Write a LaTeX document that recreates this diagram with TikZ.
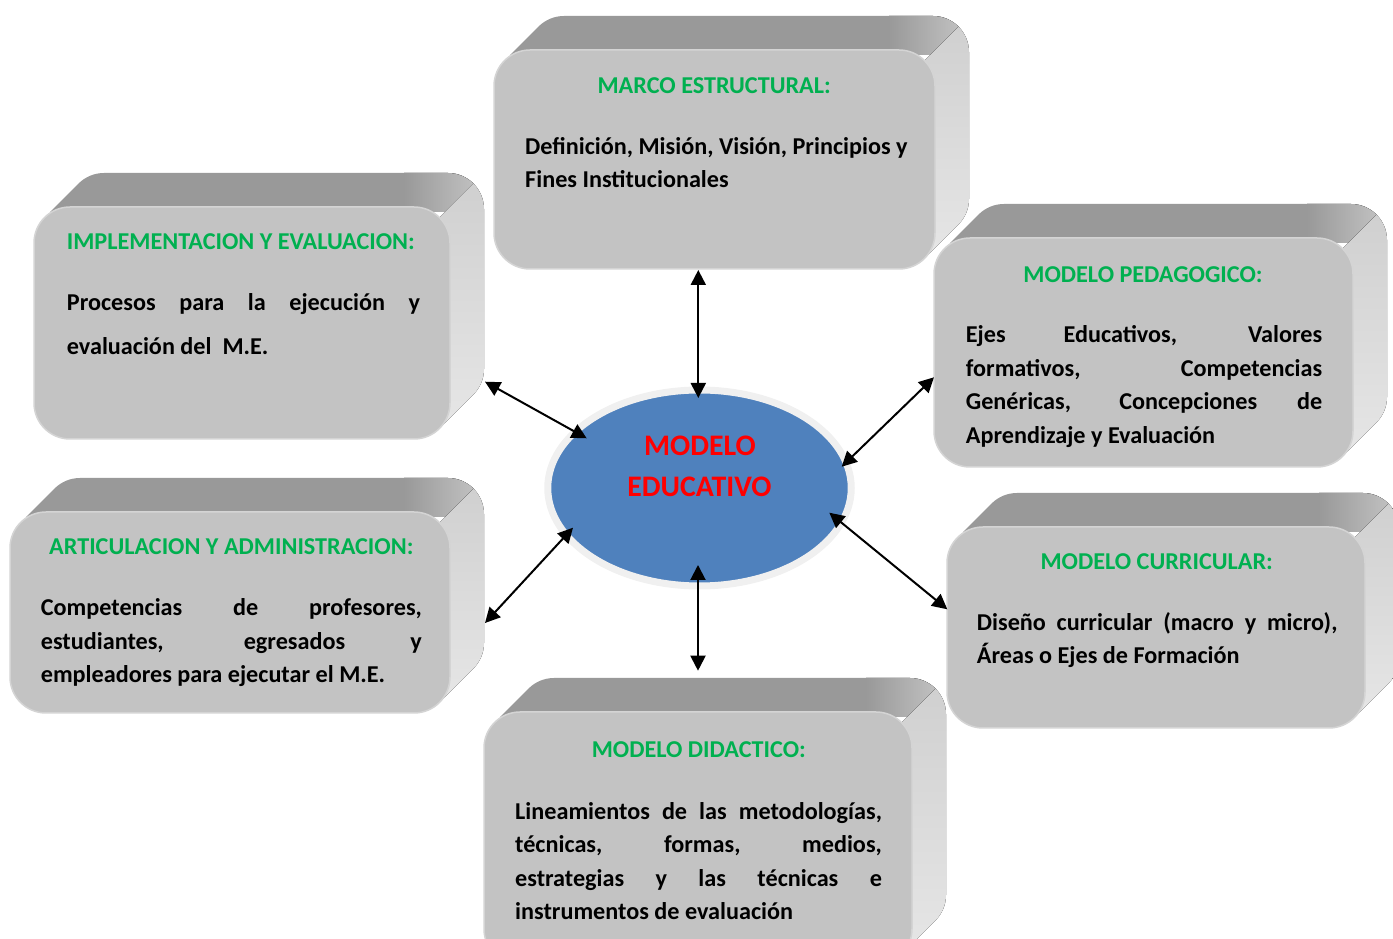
\documentclass[tikz,border=0pt]{standalone}
\usepackage{fontspec}
\setmainfont{Carlito}
\usetikzlibrary{shapes.geometric,arrows.meta}
\definecolor{titlegreen}{HTML}{00B050}
\definecolor{topL}{HTML}{999999}
\definecolor{topR}{HTML}{C8C8C8}
\definecolor{sideT}{HTML}{D0D0D0}
\definecolor{sideB}{HTML}{E6E6E6}
\definecolor{frontfill}{HTML}{C3C3C3}
\definecolor{frontline}{HTML}{D4D4D4}
\definecolor{meblue}{HTML}{4F81BD}
\definecolor{mering}{HTML}{F0F0F0}
\definecolor{mered}{HTML}{FF0000}
\def\rr{36}
\def\dd{34}
\newcommand\jl[2]{\makebox[#1pt][s]{#2}}
\newcommand\extrudedbox[5]{%
  \pgfmathsetmacro\xa{#2}%
  \pgfmathsetmacro\xb{#4}%
  \pgfmathsetmacro\yb{938-#3}%
  \pgfmathsetmacro\ya{938-#5}%
  \pgfmathsetmacro\ca{\rr*0.7071}%
  \pgfmathsetmacro\ww{#4-#2}%
  \pgfmathsetmacro\hh{#5-#3}%
  \begin{scope}
  \path[clip]
    (\xa+\rr-\ca, \yb-\rr+\ca) arc[start angle=135, end angle=90, radius=\rr pt]
    -- (\xb-\rr, \yb) arc[start angle=90, end angle=45, radius=\rr pt]
    -- ++(\dd,\dd) arc[start angle=45, end angle=90, radius=\rr pt]
    -- (\xa+\rr+\dd, \yb+\dd) arc[start angle=90, end angle=135, radius=\rr pt]
    -- cycle;
  \fill[topL] (\xa-5, \yb-5) rectangle (\xb+\dd+5, \yb+\dd+5);
  \fill[left color=topL, right color=topR] (\xb-\rr-10, \yb-5) rectangle (\xb+\dd+5, \yb+\dd+5);
  \end{scope}
  \fill[top color=sideT, bottom color=sideB]
    (\xb-\rr+\ca, \yb-\rr+\ca) arc[start angle=45, end angle=0, radius=\rr pt]
    -- (\xb, \ya+\rr) arc[start angle=0, end angle=-45, radius=\rr pt]
    -- ++(\dd,\dd) arc[start angle=-45, end angle=0, radius=\rr pt]
    -- (\xb+\dd, \yb-\rr+\dd) arc[start angle=0, end angle=45, radius=\rr pt]
    -- cycle;
  \node[frontbox, minimum width=\ww pt, minimum height=\hh pt] (#1) at ({(\xa+\xb)/2}, {(\ya+\yb)/2}) {};
}
\tikzset{
  frontbox/.style={rectangle, rounded corners=\rr pt, fill=frontfill, draw=frontline, line width=1.5pt, inner sep=0pt},
  boxtitle/.style={anchor=base, inner sep=0pt, text=titlegreen, font=\bfseries\fontsize{24.2}{34}\selectfont},
  boxbody/.style={anchor=base west, inner sep=0pt, font=\bfseries\fontsize{24.2}{34}\selectfont},
  centertext/.style={anchor=base, inner sep=0pt, text=mered, font=\bfseries\fontsize{29.8}{40}\selectfont},
  biarrow/.style={line width=2pt, {Triangle[length=15pt,width=15pt]}-{Triangle[length=15pt,width=15pt]}}
}
\begin{document}
\begin{tikzpicture}[x=1pt,y=1pt]
\useasboundingbox (0,0) rectangle (1393,938);
\clip (0,0) rectangle (1393,938);
% boxes
\extrudedbox{ped}{934}{238}{1353}{467}
\extrudedbox{marco}{494}{50}{935}{269}
\extrudedbox{impl}{34}{207}{450}{439}
\extrudedbox{art}{10}{512}{450}{713}
\extrudedbox{did}{484}{712}{912}{965}
\extrudedbox{cur}{947}{527}{1365}{728}
% texts
\node[boxtitle] (marcoT) at (714.2, 938-93.3) {MARCO ESTRUCTURAL:};
\node[boxbody] (marcoL1) at (525, 938-155) {Definición, Misión, Visión, Principios y};
\node[boxbody] (marcoL2) at (525, 938-188) {Fines Institucionales};

\node[boxtitle] (implT) at (240.8, 938-250) {IMPLEMENTACION Y EVALUACION:};
\node[boxbody] (implL1) at (66.7, 938-310.7) {\jl{353.3}{Procesos para la ejecución y}};
\node[boxbody] (implL2) at (66.7, 938-355) {evaluación del \ M.E.};

\node[boxtitle] (pedT) at (1143, 938-282.3) {MODELO PEDAGOGICO:};
\node[boxbody] (pedL1) at (965.7, 938-342.3) {\jl{356.3}{Ejes Educativos, Valores}};
\node[boxbody] (pedL2) at (965.7, 938-376.7) {\jl{356.3}{formativos, Competencias}};
\node[boxbody] (pedL3) at (965.7, 938-410) {\jl{356.3}{Genéricas, Concepciones de}};
\node[boxbody] (pedL4) at (965.7, 938-443.3) {Aprendizaje y Evaluación};

\node[boxtitle] (artT) at (231.3, 938-555) {ARTICULACION Y ADMINISTRACION:};
\node[boxbody] (artL1) at (40.7, 938-615.7) {\jl{381}{Competencias de profesores,}};
\node[boxbody] (artL2) at (40.7, 938-650) {\jl{381}{estudiantes, egresados y}};
\node[boxbody] (artL3) at (40.7, 938-682.7) {empleadores para ejecutar el M.E.};

\node[boxtitle] (curT) at (1156.7, 938-569.3) {MODELO CURRICULAR:};
\node[boxbody] (curL1) at (976.7, 938-630.7) {\jl{360.6}{Diseño curricular (macro y micro),}};
\node[boxbody] (curL2) at (976.7, 938-663.3) {Áreas o Ejes de Formación};

\node[boxtitle] (didT) at (698.8, 938-757.3) {MODELO DIDACTICO:};
\node[boxbody] (didL1) at (515, 938-819) {\jl{366.7}{Lineamientos de las metodologías,}};
\node[boxbody] (didL2) at (515, 938-852.7) {\jl{366.7}{técnicas, formas, medios,}};
\node[boxbody] (didL3) at (515, 938-886) {\jl{366.7}{estrategias y las técnicas e}};
\node[boxbody] (didL4) at (515, 938-919.3) {instrumentos de evaluación};

% central ellipse
\node[ellipse, fill=meblue, draw=mering, line width=7pt, minimum width=303.5pt, minimum height=196pt, inner sep=0pt] (me) at (699.5, 938-488) {};
\node[centertext] (meL1) at (700, 938-456) {MODELO};
\node[centertext] (meL2) at (699.5, 938-496.7) {EDUCATIVO};

% arrow end points
\coordinate (aTopB) at (698.3, 938-270);
\coordinate (aTopE) at (698.3, 938-398);
\coordinate (aULB) at (485, 938-381.7);
\coordinate (aULE) at (586.7, 938-438.3);
\coordinate (aURB) at (934, 938-377.3);
\coordinate (aURE) at (841.7, 938-466.7);
\coordinate (aLLB) at (485, 938-623);
\coordinate (aLLE) at (573, 938-527.7);
\coordinate (aLRB) at (947.3, 938-609.3);
\coordinate (aLRE) at (829.3, 938-512.7);
\coordinate (aBotB) at (698, 938-670.7);
\coordinate (aBotE) at (698, 938-565);

\draw[biarrow] (aTopB) -- (aTopE);
\draw[biarrow] (aULB) -- (aULE);
\draw[biarrow] (aURB) -- (aURE);
\draw[biarrow] (aLLB) -- (aLLE);
\draw[biarrow] (aLRB) -- (aLRE);
\draw[biarrow] (aBotB) -- (aBotE);
\end{tikzpicture}
\end{document}
